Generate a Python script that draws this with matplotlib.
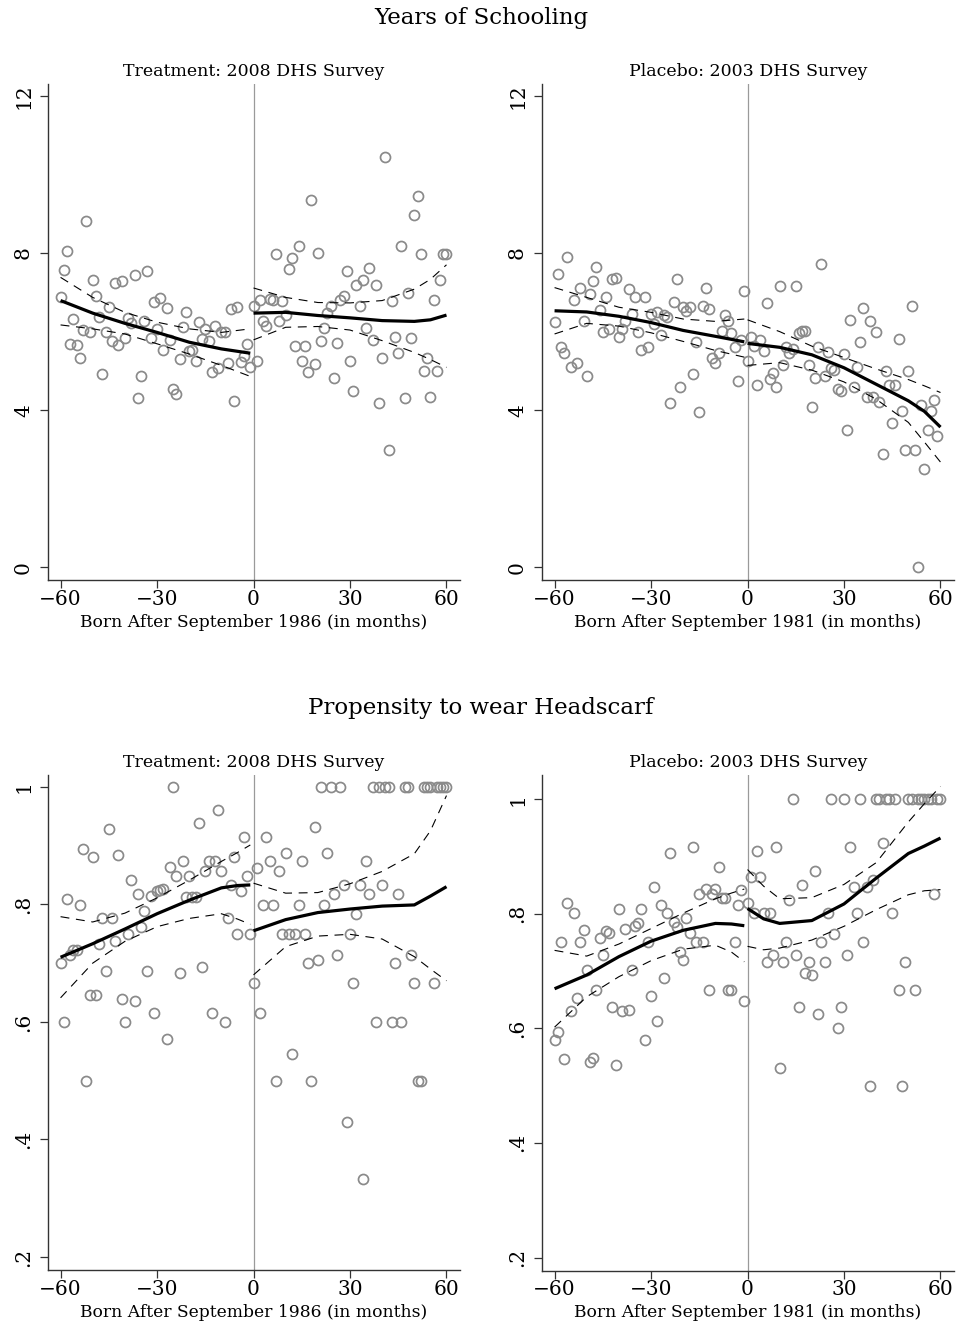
import numpy as np
import matplotlib.pyplot as plt

plt.rcParams['font.family'] = 'DejaVu Serif'

# months of birth relative to the cutoff
m_left = np.arange(-60, 0)
m_right = np.arange(0, 61)
m_right03 = np.arange(0, 60)

# ---- Years of schooling, 2008 survey (treatment)
sch08_left = [6.89, 7.56, 8.06, 5.69, 6.32, 5.67, 5.34, 6.04, 8.82, 5.98,
              7.32, 6.91, 6.36, 4.93, 5.98, 6.62, 5.77, 7.23, 5.67, 7.29,
              5.84, 6.35, 6.21, 7.44, 4.32, 4.86, 6.26, 7.53, 5.84, 6.76,
              6.07, 6.85, 5.52, 6.60, 5.79, 4.54, 4.40, 5.31, 6.11, 6.49,
              5.50, 5.52, 5.24, 6.24, 5.81, 6.07, 5.77, 4.98, 6.15, 5.08,
              5.98, 5.98, 5.19, 6.57, 4.23, 6.63, 5.22, 5.39, 5.69, 5.11]
sch08_right = [6.64, 5.26, 6.81, 6.26, 6.13, 6.83, 6.81, 7.97, 6.28, 6.79,
               6.41, 7.59, 7.87, 5.64, 8.17, 5.24, 5.64, 4.98, 9.36, 5.18,
               8.01, 5.77, 6.09, 6.47, 6.64, 4.81, 5.70, 6.81, 6.90, 7.54,
               5.24, 4.49, 7.19, 6.64, 7.31, 6.09, 7.62, 5.79, 7.19, 4.19,
               5.32, 10.45, 3.00, 6.79, 5.87, 5.45, 8.17, 4.32, 6.98, 5.84,
               8.96, 9.46, 7.97, 4.99, 5.32, 4.33, 6.81, 4.99, 7.31, 7.97,
               7.97]

# ---- Years of schooling, 2003 survey (placebo)
sch03_left = [6.25, 7.46, 5.62, 5.45, 7.89, 5.11, 6.81, 5.20, 7.12, 6.28,
              4.86, 6.96, 7.29, 7.65, 6.55, 5.98, 6.89, 6.07, 7.34, 7.36,
              5.87, 6.07, 6.26, 7.08, 6.46, 6.87, 5.98, 5.52, 6.87, 5.62,
              6.46, 6.19, 6.49, 5.92, 6.41, 6.38, 4.18, 6.76, 7.34, 4.60,
              6.63, 6.53, 6.62, 4.91, 5.73, 3.95, 6.66, 7.12, 6.58, 5.33,
              5.20, 5.45, 6.02, 6.43, 6.26, 5.96, 5.60, 4.74, 5.79, 7.04]
sch03_right = [5.26, 5.86, 5.63, 4.63, 5.79, 5.50, 6.74, 4.80, 4.94, 4.59,
               7.15, 5.14, 5.62, 5.45, 5.56, 7.15, 5.97, 6.02, 6.02, 5.14,
               4.08, 4.81, 5.62, 7.72, 4.86, 5.47, 5.08, 5.03, 4.54, 4.50,
               5.43, 3.50, 6.30, 4.60, 5.11, 5.73, 6.59, 4.33, 6.28, 4.33,
               5.98, 4.22, 2.88, 4.99, 4.63, 3.67, 4.65, 5.81, 3.98, 3.00,
               4.99, 6.64, 3.00, 0.02, 4.12, 2.51, 3.50, 3.98, 4.25, 3.34]

# ---- Headscarf, 2008 survey (treatment)
hs08_left = [0.700, 0.600, 0.809, 0.714, 0.722, 0.722, 0.799, 0.894, 0.500, 0.646,
             0.881, 0.646, 0.733, 0.777, 0.687, 0.928, 0.777, 0.737, 0.884, 0.639,
             0.600, 0.749, 0.841, 0.636, 0.818, 0.762, 0.789, 0.687, 0.814, 0.615,
             0.822, 0.824, 0.826, 0.571, 0.863, 1.000, 0.848, 0.684, 0.874, 0.812,
             0.848, 0.812, 0.812, 0.939, 0.694, 0.857, 0.874, 0.615, 0.874, 0.960,
             0.857, 0.600, 0.777, 0.833, 0.880, 0.749, 0.823, 0.915, 0.848, 0.749]
hs08_right = [0.666, 0.862, 0.615, 0.799, 0.915, 0.874, 0.799, 0.500, 0.857, 0.749,
              0.888, 0.749, 0.545, 0.749, 0.799, 0.874, 0.749, 0.700, 0.500, 0.932,
              0.705, 1.000, 0.799, 0.888, 1.000, 0.817, 0.714, 1.000, 0.833, 0.429,
              0.749, 0.666, 0.784, 0.833, 0.333, 0.874, 0.817, 1.000, 0.600, 1.000,
              0.833, 1.000, 1.000, 0.600, 0.700, 0.817, 0.600, 1.000, 1.000, 0.714,
              0.666, 0.500, 0.500, 1.000, 1.000, 1.000, 0.666, 1.000, 1.000, 1.000,
              1.000]

# ---- Headscarf, 2003 survey (placebo)
hs03_left = [0.580, 0.593, 0.750, 0.546, 0.818, 0.630, 0.801, 0.652, 0.750, 0.772,
             0.701, 0.542, 0.548, 0.667, 0.758, 0.728, 0.769, 0.767, 0.637, 0.536,
             0.808, 0.631, 0.773, 0.632, 0.701, 0.779, 0.783, 0.809, 0.580, 0.750,
             0.656, 0.846, 0.612, 0.815, 0.687, 0.801, 0.906, 0.786, 0.777, 0.734,
             0.720, 0.792, 0.767, 0.917, 0.750, 0.834, 0.750, 0.843, 0.667, 0.834,
             0.843, 0.882, 0.828, 0.828, 0.667, 0.667, 0.750, 0.815, 0.842, 0.648]
hs03_right = [0.818, 0.864, 0.801, 0.910, 0.864, 0.801, 0.715, 0.801, 0.728, 0.917,
              0.530, 0.715, 0.750, 0.824, 1.000, 0.728, 0.637, 0.850, 0.696, 0.715,
              0.693, 0.875, 0.625, 0.750, 0.715, 0.801, 1.000, 0.765, 0.600, 0.637,
              1.000, 0.728, 0.917, 0.846, 0.801, 1.000, 0.750, 0.846, 0.500, 0.859,
              1.000, 1.000, 0.924, 1.000, 1.000, 0.801, 1.000, 0.667, 0.500, 0.715,
              1.000, 1.000, 0.667, 1.000, 1.000, 1.000, 1.000, 1.000, 0.834, 1.000,
              1.000]

# ---- fitted lines and confidence bands
f1_xl = [-60, -50, -40, -30, -20, -10, -1]
f1_fit_l = [6.79, 6.47, 6.21, 5.98, 5.73, 5.56, 5.45]
f1_hi_l = [7.38, 6.87, 6.49, 6.24, 6.07, 5.98, 6.07]
f1_lo_l = [6.17, 6.07, 5.94, 5.69, 5.43, 5.14, 4.86]
f1_xr = [0, 10, 20, 30, 40, 50, 55, 60]
f1_fit_r = [6.47, 6.49, 6.41, 6.35, 6.28, 6.26, 6.30, 6.42]
f1_hi_r = [7.11, 6.87, 6.74, 6.73, 6.79, 7.08, 7.33, 7.70]
f1_lo_r = [5.79, 6.11, 6.13, 6.04, 5.77, 5.47, 5.29, 5.09]

f2_xl = [-60, -50, -40, -30, -20, -10, -1]
f2_fit_l = [6.53, 6.50, 6.39, 6.23, 6.03, 5.88, 5.74]
f2_hi_l = [7.12, 6.87, 6.62, 6.49, 6.32, 6.26, 6.32]
f2_lo_l = [5.94, 6.21, 6.14, 5.97, 5.75, 5.52, 5.35]
f2_xr = [0, 10, 20, 30, 40, 50, 55, 60]
f2_fit_r = [5.70, 5.60, 5.41, 5.08, 4.66, 4.24, 3.97, 3.57]
f2_hi_r = [6.30, 6.00, 5.63, 5.34, 5.05, 4.78, 4.62, 4.45]
f2_lo_r = [5.14, 5.21, 5.02, 4.72, 4.28, 3.69, 3.19, 2.68]

f3_xl = [-60, -50, -40, -30, -20, -10, -5, -1]
f3_fit_l = [0.710, 0.733, 0.758, 0.784, 0.807, 0.828, 0.832, 0.833]
f3_hi_l = [0.779, 0.770, 0.785, 0.811, 0.841, 0.873, 0.888, 0.901]
f3_lo_l = [0.641, 0.700, 0.737, 0.762, 0.776, 0.784, 0.775, 0.766]
f3_xr = [0, 10, 20, 30, 40, 50, 55, 60]
f3_fit_r = [0.755, 0.774, 0.786, 0.792, 0.797, 0.799, 0.814, 0.830]
f3_hi_r = [0.836, 0.819, 0.820, 0.835, 0.856, 0.886, 0.925, 0.985]
f3_lo_r = [0.680, 0.728, 0.746, 0.749, 0.741, 0.711, 0.690, 0.670]

f4_xl = [-60, -50, -40, -30, -20, -10, -5, -1]
f4_fit_l = [0.669, 0.693, 0.725, 0.752, 0.771, 0.783, 0.782, 0.779]
f4_hi_l = [0.736, 0.726, 0.747, 0.774, 0.801, 0.826, 0.836, 0.843]
f4_lo_l = [0.602, 0.655, 0.690, 0.718, 0.738, 0.745, 0.733, 0.716]
f4_xr = [0, 5, 10, 20, 30, 40, 50, 55, 60]
f4_fit_r = [0.809, 0.791, 0.783, 0.788, 0.817, 0.862, 0.905, 0.918, 0.932]
f4_hi_r = [0.877, 0.848, 0.826, 0.828, 0.851, 0.889, 0.960, 0.992, 1.022]
f4_lo_r = [0.743, 0.737, 0.740, 0.754, 0.778, 0.807, 0.833, 0.840, 0.842]

W, H = 958, 1327
fig = plt.figure(figsize=(W / 100, H / 100), dpi=100)


def make_ax(x0, x1, ytop, ybot):
    return fig.add_axes([x0 / W, 1 - ybot / H, (x1 - x0) / W, (ybot - ytop) / H])


ax1 = make_ax(47.7, 460, 84, 580)
ax2 = make_ax(541.7, 954, 84, 580)
ax3 = make_ax(47.7, 460, 775, 1270)
ax4 = make_ax(541.7, 954, 775, 1270.7)

panels = [
    (ax1, sch08_left, sch08_right, m_right, f1_xl, f1_fit_l, f1_hi_l, f1_lo_l,
     f1_xr, f1_fit_r, f1_hi_r, f1_lo_r, "Treatment: 2008 DHS Survey",
     "Born After September 1986 (in months)"),
    (ax2, sch03_left, sch03_right, m_right03, f2_xl, f2_fit_l, f2_hi_l, f2_lo_l,
     f2_xr, f2_fit_r, f2_hi_r, f2_lo_r, "Placebo: 2003 DHS Survey",
     "Born After September 1981 (in months)"),
    (ax3, hs08_left, hs08_right, m_right, f3_xl, f3_fit_l, f3_hi_l, f3_lo_l,
     f3_xr, f3_fit_r, f3_hi_r, f3_lo_r, "Treatment: 2008 DHS Survey",
     "Born After September 1986 (in months)"),
    (ax4, hs03_left, hs03_right, m_right, f4_xl, f4_fit_l, f4_hi_l, f4_lo_l,
     f4_xr, f4_fit_r, f4_hi_r, f4_lo_r, "Placebo: 2003 DHS Survey",
     "Born After September 1981 (in months)"),
]

grey = '#8a8a8a'
for (ax, yl, yr, mr, xl, fl, hl, ll, xr, fr, hr, lr, title, xlab) in panels:
    ax.axvline(0, color='#9a9a9a', lw=0.9, zorder=1)
    ax.plot(m_left, yl, 'o', mfc='none', mec=grey, ms=7.2, mew=1.25, zorder=2)
    ax.plot(mr, yr, 'o', mfc='none', mec=grey, ms=7.2, mew=1.25, zorder=2)
    for xs, f, hi, lo in [(xl, fl, hl, ll), (xr, fr, hr, lr)]:
        ax.plot(xs, f, color='black', lw=2.3, zorder=4, solid_capstyle='butt')
        ax.plot(xs, hi, color='black', lw=0.8, dashes=(8, 6), zorder=3)
        ax.plot(xs, lo, color='black', lw=0.8, dashes=(8, 6), zorder=3)
    ax.set_xlim(-64, 64.2)
    ax.set_xticks([-60, -30, 0, 30, 60])
    ax.set_xticklabels(['\u221260', '\u221230', '0', '30', '60'])
    ax.set_title(title, fontsize=12.5, pad=6)
    ax.set_xlabel(xlab, fontsize=12.3, labelpad=3.5)
    for s in ['top', 'right']:
        ax.spines[s].set_visible(False)
    for s in ['left', 'bottom']:
        ax.spines[s].set_linewidth(1.0)
        ax.spines[s].set_color('#333333')
    ax.tick_params(axis='both', length=5.5, width=0.9, color='#333333',
                   labelsize=14.5, pad=1.5)
    ax.tick_params(axis='y', labelrotation=90, pad=5)
    for lbl in ax.get_yticklabels():
        lbl.set_va('center')

for ax in (ax1, ax2):
    ax.set_ylim(-0.32, 12.3)
    ax.set_yticks([0, 4, 8, 12])
    ax.set_yticklabels(['0', '4', '8', '12'], va='center')

ax3.set_ylim(0.178, 1.02)
ax4.set_ylim(0.177, 1.042)
for ax in (ax3, ax4):
    ax.set_yticks([0.2, 0.4, 0.6, 0.8, 1.0])
    ax.set_yticklabels(['.2', '.4', '.6', '.8', '1'], va='center')

fig.text(0.502, 1 - 18 / H, "Years of Schooling", ha='center', va='center', fontsize=16.5)
fig.text(0.502, 1 - 708 / H, "Propensity to wear Headscarf", ha='center', va='center',
         fontsize=16.5)

fig.savefig('out.png', dpi=100, facecolor='white')
